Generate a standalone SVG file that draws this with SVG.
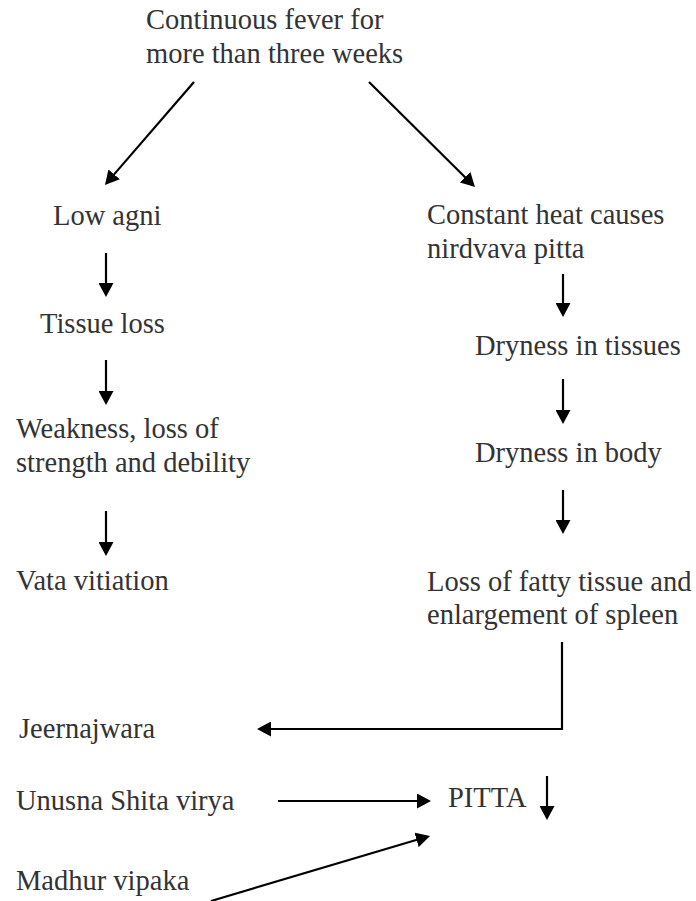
<svg xmlns="http://www.w3.org/2000/svg" width="696" height="901" viewBox="0 0 696 901">
<style>
.t{font-family:"Liberation Serif","Times New Roman",serif;font-size:28.5px;fill:#333}
.c{stroke:#000;stroke-width:2.2;fill:none;marker-end:url(#ah)}
</style>
<defs>
<marker id="ah" markerUnits="userSpaceOnUse" viewBox="0 0 14 15" markerWidth="14" markerHeight="15" refX="4" refY="7.5" orient="auto">
<path d="M0,0 L14,7.5 L0,15 z" fill="#000"/>
</marker>
</defs>
<rect width="696" height="901" fill="#fff"/>
<g id="n-fever"><text class="t" x="146" y="29">Continuous fever for</text><text class="t" x="146" y="63">more than three weeks</text></g>
<g id="n-lowagni"><text class="t" x="53" y="225">Low agni</text></g>
<g id="n-tissueloss"><text class="t" x="40" y="333">Tissue loss</text></g>
<g id="n-weakness"><text class="t" x="16" y="438">Weakness, loss of</text><text class="t" x="16" y="472">strength and debility</text></g>
<g id="n-vata"><text class="t" x="16" y="590">Vata vitiation</text></g>
<g id="n-heat"><text class="t" x="427" y="224">Constant heat causes</text><text class="t" x="427" y="258">nirdvava pitta</text></g>
<g id="n-drytissues"><text class="t" x="475" y="355">Dryness in tissues</text></g>
<g id="n-drybody"><text class="t" x="475" y="462">Dryness in body</text></g>
<g id="n-fatty"><text class="t" x="427" y="591">Loss of fatty tissue and</text><text class="t" x="427" y="624">enlargement of spleen</text></g>
<g id="n-jeernajwara"><text class="t" x="19" y="738">Jeernajwara</text></g>
<g id="n-unusna"><text class="t" x="16" y="810">Unusna Shita virya</text></g>
<g id="n-pitta"><text class="t" x="448" y="807">PITTA</text></g>
<g id="n-madhur"><text class="t" x="16" y="890">Madhur vipaka</text></g>
<g id="connectors">
<line class="c" x1="194" y1="82" x2="111.5" y2="177.4"/>
<line class="c" x1="369" y1="82" x2="467.9" y2="180"/>
<line class="c" x1="106" y1="253" x2="106" y2="287"/>
<line class="c" x1="106" y1="360" x2="106" y2="395"/>
<line class="c" x1="106" y1="511" x2="106" y2="546"/>
<line class="c" x1="563" y1="274" x2="563" y2="307"/>
<line class="c" x1="563" y1="379" x2="563" y2="414"/>
<line class="c" x1="563" y1="490" x2="563" y2="524"/>
<path class="c" d="M562,642 V729 H267" stroke-linejoin="miter"/>
<line class="c" x1="278" y1="801" x2="421" y2="801"/>
<line class="c" x1="547" y1="776" x2="547" y2="810"/>
<line class="c" x1="211" y1="901" x2="420.4" y2="838.8"/>
</g>
</svg>
